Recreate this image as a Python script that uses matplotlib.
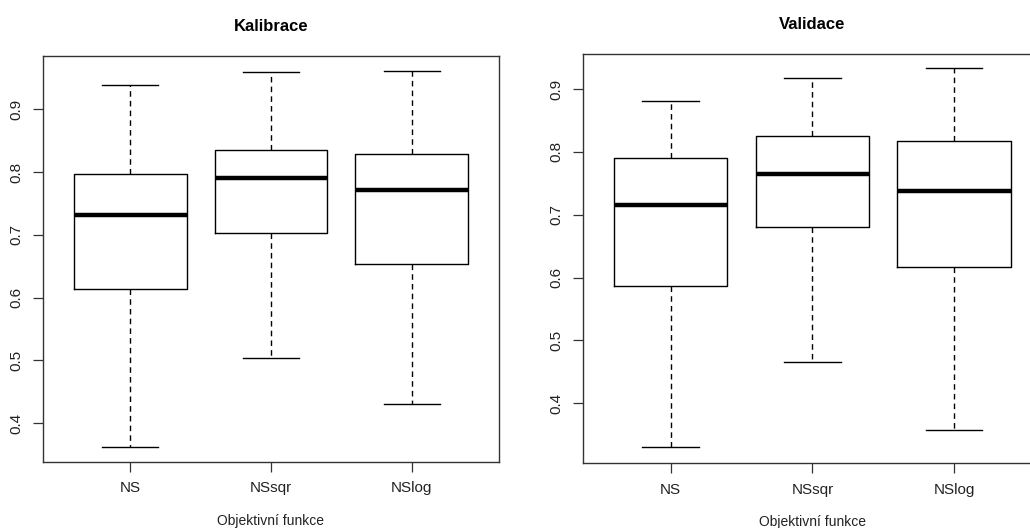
import matplotlib.pyplot as plt

plt.rcParams['font.family'] = ['Liberation Sans', 'DejaVu Sans']

labels = ['NS', 'NSsqr', 'NSlog']

# Kalibrace: min, Q1, median, Q3, max
kal_min = [0.362, 0.503, 0.430]
kal_q1 = [0.614, 0.703, 0.654]
kal_med = [0.732, 0.790, 0.772]
kal_q3 = [0.797, 0.835, 0.828]
kal_max = [0.939, 0.960, 0.961]

# Validace
val_min = [0.331, 0.465, 0.357]
val_q1 = [0.587, 0.680, 0.617]
val_med = [0.716, 0.765, 0.738]
val_q3 = [0.790, 0.825, 0.818]
val_max = [0.881, 0.917, 0.934]


def stats(mins, q1, med, q3, maxs):
    out = []
    for i, lab in enumerate(labels):
        out.append({'label': lab, 'whislo': mins[i], 'q1': q1[i], 'med': med[i],
                    'q3': q3[i], 'whishi': maxs[i], 'fliers': []})
    return out


fig = plt.figure(figsize=(10.3, 5.28), dpi=100)
ax1 = fig.add_axes([0.0417, 0.125, 0.4427, 0.769])
ax2 = fig.add_axes([0.566, 0.123, 0.4456, 0.775])

panels = [
    (ax1, 'Kalibrace', stats(kal_min, kal_q1, kal_med, kal_q3, kal_max), (0.338, 0.985)),
    (ax2, 'Validace', stats(val_min, val_q1, val_med, val_q3, val_max), (0.305, 0.956)),
]

for ax, title, st, ylim in panels:
    ax.bxp(st, widths=0.8, showfliers=False,
           boxprops=dict(color='black', linewidth=1.0),
           medianprops=dict(color='black', linewidth=3.2),
           whiskerprops=dict(color='black', linewidth=1.0, linestyle=(0, (4, 3))),
           capprops=dict(color='black', linewidth=1.0),
           capwidths=0.4)
    ax.set_xlim(0.38, 3.62)
    ax.set_ylim(*ylim)
    ax.set_yticks([0.4, 0.5, 0.6, 0.7, 0.8, 0.9])
    ax.set_yticklabels(['0.4', '0.5', '0.6', '0.7', '0.8', '0.9'],
                       rotation=90, va='center')
    ax.tick_params(axis='both', length=7, width=0.9, color='#333333',
                   labelsize=11, labelcolor='#222222', pad=7)
    ax.set_title(title, fontsize=12, fontweight='bold', pad=18)
    ax.set_xlabel('Objektivní funkce', fontsize=10, labelpad=13, color='#222222')
    for sp in ax.spines.values():
        sp.set_color('#333333')
        sp.set_linewidth(1.0)

fig.savefig('out.png', dpi=100)
